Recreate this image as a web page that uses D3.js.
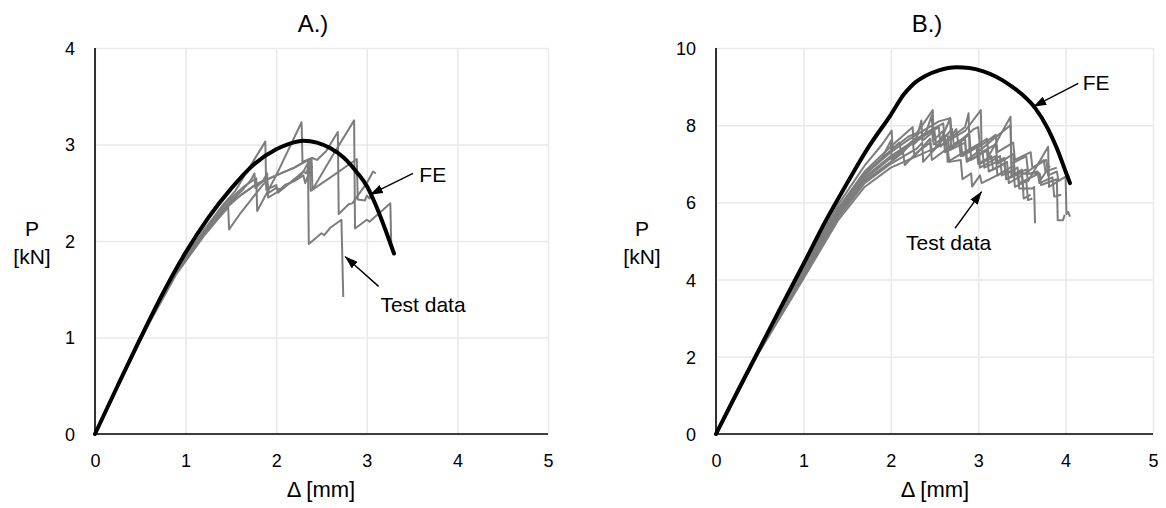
<!DOCTYPE html>
<html>
<head>
<meta charset="utf-8">
<script src="https://cdn.jsdelivr.net/npm/d3@7"></script>
<style>
  html, body { margin: 0; padding: 0; background: #fff; }
  svg { display: block; font-family: "Liberation Sans", Arial, sans-serif; }
</style>
</head>
<body>
<svg id="chart" width="1166" height="508"></svg>
<script>
// ---- axes ----
const xTicks = [0, 1, 2, 3, 4, 5];
const yTicksA = [0, 1, 2, 3, 4];
const yTicksB = [0, 2, 4, 6, 8, 10];

// ---- panel A: FE prediction [Δ mm, P kN] ----
const feA = [[0,0],[0.25,0.5],[0.5,0.99],[0.75,1.46],[1.0,1.88],[1.25,2.24],[1.5,2.54],[1.75,2.79],
  [2.0,2.95],[2.15,3.01],[2.3,3.04],[2.45,3.02],[2.6,2.96],[2.75,2.86],[2.9,2.7],[3.0,2.57],
  [3.1,2.37],[3.2,2.13],[3.3,1.87]];

// ---- panel A: test records ----
const testA1 = [[0,0],[0.3,0.6],[0.6,1.16],[0.9,1.68],[1.2,2.08],[1.4,2.3],[1.6,2.47],[1.8,2.6],
  [2.0,2.68],[2.2,2.76],[2.35,2.84],[2.36,1.97],[2.5,2.08],[2.53,2.06],[2.6,2.14],[2.72,2.22],[2.74,1.42]];
const testA2 = [[0,0],[0.3,0.6],[0.6,1.17],[0.9,1.7],[1.2,2.1],[1.45,2.4],[1.65,2.57],[1.78,2.65],
  [1.79,2.31],[2.0,2.68],[2.28,3.23],[2.29,2.82],[2.4,2.86],[2.45,2.84],[2.55,2.93],[2.68,3.13],
  [2.69,2.28],[2.8,2.38],[2.84,2.39],[2.9,2.47],[3.0,2.6],[3.07,2.72],[3.1,2.7]];
const testA3 = [[0,0],[0.3,0.6],[0.6,1.16],[0.9,1.67],[1.2,2.07],[1.5,2.4],[1.75,2.57],[2.0,2.68],
  [2.2,2.76],[2.39,2.86],[2.40,2.53],[2.6,2.85],[2.86,3.25],[2.87,2.13],[3.0,2.22],[3.03,2.2],
  [3.26,2.39],[3.27,1.94]];
const testA4 = [[0,0],[0.3,0.6],[0.6,1.17],[0.9,1.71],[1.2,2.11],[1.4,2.36],[1.55,2.52],[1.69,2.74],
  [1.88,3.03],[1.89,2.53],[2.0,2.58],[2.02,2.5],[2.15,2.6],[2.3,2.72],[2.33,2.7],[2.37,2.8],
  [2.38,2.52],[2.6,2.66],[2.89,2.85],[2.9,2.43],[2.98,2.42],[3.0,2.47],[3.03,2.44],[3.05,2.48]];
const testA5 = [[0,0],[0.3,0.59],[0.6,1.15],[0.9,1.66],[1.2,2.05],[1.35,2.22],[1.47,2.35],[1.48,2.12],
  [1.6,2.28],[1.75,2.46],[1.85,2.58],[1.9,2.62],[1.92,2.5],[2.0,2.55],[2.05,2.53],[2.1,2.58],
  [2.15,2.6],[2.2,2.64],[2.25,2.66],[2.3,2.72],[2.37,2.84],[2.38,2.74],[2.4,2.78]];
const testA6 = [[0,0],[0.3,0.6],[0.6,1.16],[0.9,1.69],[1.2,2.09],[1.45,2.37],[1.62,2.52],[1.72,2.63],
  [1.76,2.7],[1.77,2.55],[1.85,2.62],[1.9,2.7],[1.91,2.45],[2.0,2.5],[2.1,2.58],[2.2,2.62],
  [2.3,2.68],[2.32,2.6],[2.36,2.7]];

// ---- panel B: FE prediction ----
const feB = [[0,0],[0.25,1.12],[0.5,2.22],[0.75,3.32],[1.0,4.4],[1.25,5.5],[1.5,6.5],[1.75,7.45],
  [2.0,8.27],[2.15,8.8],[2.25,9.05],[2.4,9.28],[2.55,9.42],[2.75,9.5],[2.9,9.48],[3.05,9.4],
  [3.2,9.26],[3.35,9.06],[3.5,8.8],[3.65,8.45],[3.8,7.9],[3.9,7.4],[4.0,6.8],[4.05,6.5]];

// ---- panel B: test records ----
const testB1 = [[0,0],[0.5,2.22],[1.0,4.3],[1.4,5.95],[1.7,6.95],[1.9,7.5],[2.01,7.86],[2.02,7.4],
  [2.1,7.55],[2.12,7.25],[2.3,7.7],[2.35,8.12],[2.36,7.6],[2.5,7.85],[2.52,7.45],[2.7,7.9],
  [2.72,7.5],[2.9,7.75],[2.92,7.1],[3.1,7.35],[3.12,6.8],[3.3,7.0],[3.32,6.6],[3.45,6.72],
  [3.47,6.36],[3.62,6.36],[3.64,6.4],[3.65,5.46]];
const testB2 = [[0,0],[0.5,2.21],[1.0,4.25],[1.4,5.85],[1.7,6.8],[2.0,7.45],[2.2,7.85],[2.25,7.95],
  [2.26,7.5],[2.4,7.8],[2.47,8.26],[2.48,7.6],[2.6,7.85],[2.62,7.3],[2.8,7.6],[2.82,7.2],
  [3.0,7.45],[3.02,6.9],[3.25,7.2],[3.27,6.7],[3.45,6.9],[3.47,6.5],[3.7,6.75],[3.72,6.45],
  [3.9,6.6],[3.91,5.54],[3.97,5.54],[3.99,5.68]];
const testB3 = [[0,0],[0.5,2.2],[1.0,4.2],[1.4,5.8],[1.7,6.72],[2.0,7.3],[2.2,7.62],[2.4,7.9],
  [2.55,8.1],[2.68,8.18],[2.7,7.7],[2.85,7.95],[2.89,8.31],[2.9,7.35],[3.1,7.65],[3.12,7.2],
  [3.37,8.22],[3.38,6.7],[3.55,6.85],[3.57,6.55],[3.8,7.44],[3.81,6.4],[4.0,6.67],[4.01,5.7],
  [4.03,5.75],[4.05,5.63]];
const testB4 = [[0,0],[0.5,2.19],[1.0,4.16],[1.4,5.75],[1.7,6.65],[2.0,7.2],[2.2,7.5],[2.4,7.8],
  [2.6,8.05],[2.62,7.55],[2.85,7.85],[3.03,8.39],[3.04,7.3],[3.2,7.5],[3.22,7.0],[3.4,7.25],
  [3.42,6.75],[3.6,6.75],[3.68,6.8],[3.7,6.5],[3.85,6.65],[3.87,6.15],[3.95,6.2]];
const testB5 = [[0,0],[0.5,2.17],[1.0,4.12],[1.4,5.68],[1.7,6.55],[2.0,7.05],[2.14,7.3],[2.16,6.97],
  [2.3,7.3],[2.45,7.55],[2.47,7.1],[2.65,7.4],[2.67,7.05],[2.8,7.1],[2.82,6.6],[2.92,6.75],
  [2.93,6.41],[3.02,6.7],[3.04,6.5],[3.3,6.8],[3.45,6.75],[3.7,6.75],[3.72,6.6],[3.82,6.95]];
const testB6 = [[0,0],[0.5,2.2],[1.0,4.22],[1.4,5.82],[1.7,6.75],[2.0,7.35],[2.2,7.7],[2.3,7.8],
  [2.48,8.39],[2.49,7.5],[2.65,7.75],[2.67,7.35],[2.85,7.55],[2.87,7.05],[3.05,7.3],[3.07,6.9],
  [3.3,7.15],[3.32,6.6],[3.5,6.85],[3.52,6.1],[3.6,6.2]];
const testB7 = [[0,0],[0.5,2.16],[1.0,4.08],[1.4,5.62],[1.7,6.5],[2.0,7.0],[2.3,7.4],[2.36,7.55],
  [2.37,7.05],[2.55,7.5],[2.68,8.18],[2.69,7.4],[2.85,7.65],[2.87,7.1],[3.05,7.4],[3.15,7.6],
  [3.37,8.0],[3.38,7.0],[3.55,7.2],[3.57,6.8],[3.75,7.1],[3.77,6.8],[3.9,6.9]];
const testB8 = [[0,0],[0.5,2.14],[1.0,4.02],[1.4,5.55],[1.7,6.4],[2.0,6.9],[2.3,7.2],[2.5,7.4],
  [2.64,7.55],[2.65,7.05],[2.8,7.25],[3.0,7.5],[3.02,7.0],[3.2,7.2],[3.22,6.7],[3.4,6.95],
  [3.42,6.4],[3.55,6.55],[3.57,6.06],[3.62,6.1]];
const testB9 = [[0,0],[0.5,2.2],[1.0,4.18],[1.4,5.78],[1.7,6.7],[1.9,7.15],[2.0,7.6],[2.01,7.1],
  [2.2,7.5],[2.25,7.6],[2.27,7.2],[2.45,7.65],[2.47,7.3],[2.62,7.7],[2.64,7.35],[2.78,7.6],
  [2.8,7.2],[2.98,7.45],[3.0,7.0],[3.15,7.2],[3.17,6.85],[3.33,7.05],[3.35,6.5],[3.5,6.7],[3.52,6.3]];
const testB10 = [[0,0],[0.5,2.19],[1.0,4.14],[1.4,5.7],[1.7,6.6],[2.0,7.15],[2.2,7.45],[2.4,7.75],
  [2.55,7.95],[2.57,7.45],[2.72,7.8],[2.75,7.9],[2.77,7.55],[2.95,7.9],[3.0,7.95],[3.02,7.45],
  [3.2,7.75],[3.22,7.3],[3.4,7.55],[3.42,7.1],[3.6,7.3],[3.62,6.9],[3.78,7.1],[3.8,6.7],
  [3.9,6.8],[3.92,6.55]];

const panels = [
  { title: "A.)", xr: [95, 548], yr: [434, 48], yMax: 4, yTicks: yTicksA,
    fe: feA, tests: [testA1, testA2, testA3, testA4, testA5, testA6],
    titleX: 313, xTitleX: 321, pX: 32,
    feNote: { tip: [3.035, 2.48], tail: [3.51, 2.70], text: [3.58, 2.61] },
    testNote: { tip: [2.76, 1.84], tail: [3.13, 1.53], text: [3.15, 1.26] } },
  { title: "B.)", xr: [716, 1153], yr: [434, 48], yMax: 10, yTicks: yTicksB,
    fe: feB, tests: [testB1, testB2, testB3, testB4, testB5, testB6, testB7, testB8, testB9, testB10],
    titleX: 927, xTitleX: 935, pX: 642,
    feNote: { tip: [3.63, 8.48], tail: [4.145, 9.085], text: [4.196, 8.91] },
    testNote: { tip: [3.04, 6.28], tail: [2.735, 5.33], text: [2.174, 4.77] } }
];

const svg = d3.select("#chart");

svg.append("defs").append("marker")
  .attr("id", "head")
  .attr("viewBox", "0 0 13 9")
  .attr("refX", 13).attr("refY", 4.5)
  .attr("markerWidth", 13).attr("markerHeight", 9)
  .attr("markerUnits", "userSpaceOnUse")
  .attr("orient", "auto")
  .append("path").attr("d", "M0,0 L13,4.5 L0,9 Z").attr("fill", "#000");

panels.forEach(p => {
  const x = d3.scaleLinear().domain([0, 5]).range(p.xr);
  const y = d3.scaleLinear().domain([0, p.yMax]).range(p.yr);
  const g = svg.append("g");

  // grid
  g.append("g").attr("transform", `translate(0,${p.yr[0]})`)
    .call(d3.axisBottom(x).tickValues(xTicks).tickSize(-(p.yr[0] - p.yr[1])).tickFormat(""))
    .call(s => s.select(".domain").remove())
    .call(s => s.selectAll("line").attr("stroke", "#e9e9e9").attr("stroke-width", 1.5));
  g.append("g").attr("transform", `translate(${p.xr[0]},0)`)
    .call(d3.axisLeft(y).tickValues(p.yTicks).tickSize(-(p.xr[1] - p.xr[0])).tickFormat(""))
    .call(s => s.select(".domain").remove())
    .call(s => s.selectAll("line").attr("stroke", "#e9e9e9").attr("stroke-width", 1.5));

  // tick labels
  g.append("g").attr("transform", `translate(0,${p.yr[0]})`)
    .call(d3.axisBottom(x).tickValues(xTicks).tickSize(0).tickFormat(d3.format("d")))
    .call(s => s.select(".domain").remove())
    .call(s => s.selectAll("text").attr("y", 33).attr("dy", 0)
      .attr("font-size", 18).attr("fill", "#000").attr("font-family", "Liberation Sans, Arial, sans-serif"));
  g.append("g").attr("transform", `translate(${p.xr[0]},0)`)
    .call(d3.axisLeft(y).tickValues(p.yTicks).tickSize(0).tickFormat(d3.format("d")))
    .call(s => s.select(".domain").remove())
    .call(s => s.selectAll("text").attr("x", -20).attr("dy", "0.36em")
      .attr("font-size", 18).attr("fill", "#000").attr("font-family", "Liberation Sans, Arial, sans-serif"));

  // axis lines
  g.append("line").attr("x1", p.xr[0]).attr("x2", p.xr[1]).attr("y1", p.yr[0]).attr("y2", p.yr[0])
    .attr("stroke", "#000").attr("stroke-width", 1.6);
  g.append("line").attr("x1", p.xr[0]).attr("x2", p.xr[0]).attr("y1", p.yr[0]).attr("y2", p.yr[1])
    .attr("stroke", "#000").attr("stroke-width", 1.6);

  const line = d3.line().x(d => x(d[0])).y(d => y(d[1]));

  // test records
  g.append("g").selectAll("path").data(p.tests).join("path")
    .attr("d", line).attr("fill", "none")
    .attr("stroke", "#7d7d7d").attr("stroke-width", 2).attr("stroke-linejoin", "round");

  // FE curve
  g.append("path").datum(p.fe).attr("d", d3.line().x(d => x(d[0])).y(d => y(d[1])).curve(d3.curveMonotoneX))
    .attr("fill", "none").attr("stroke", "#000").attr("stroke-width", 4)
    .attr("stroke-linecap", "round").attr("stroke-linejoin", "round");

  // annotations
  [[p.feNote, "FE"], [p.testNote, "Test data"]].forEach(([n, label]) => {
    g.append("line")
      .attr("x1", x(n.tail[0])).attr("y1", y(n.tail[1]))
      .attr("x2", x(n.tip[0])).attr("y2", y(n.tip[1]))
      .attr("stroke", "#000").attr("stroke-width", 1.4).attr("marker-end", "url(#head)");
    g.append("text").attr("x", x(n.text[0])).attr("y", y(n.text[1]))
      .attr("font-size", 21).attr("fill", "#000").text(label);
  });

  // titles
  g.append("text").attr("x", p.titleX).attr("y", 32).attr("text-anchor", "middle")
    .attr("font-size", 24).text(p.title);
  g.append("text").attr("x", p.xTitleX).attr("y", 497).attr("text-anchor", "middle")
    .attr("font-size", 22).text("Δ [mm]");
  g.append("text").attr("x", p.pX).attr("y", 236).attr("text-anchor", "middle")
    .attr("font-size", 21).text("P");
  g.append("text").attr("x", p.pX).attr("y", 264).attr("text-anchor", "middle")
    .attr("font-size", 21).text("[kN]");
});
</script>
</body>
</html>
